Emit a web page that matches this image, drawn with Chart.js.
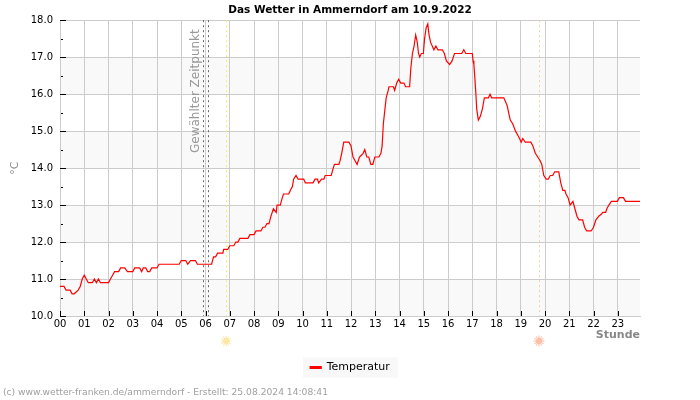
<!DOCTYPE html>
<html>
<head>
<meta charset="utf-8">
<title>Das Wetter in Ammerndorf</title>
<script src="https://cdn.jsdelivr.net/npm/chart.js@4/dist/chart.umd.min.js"></script>
<style>
    body { margin: 0; background: #fff; }
    canvas { display: block; }
</style>
</head>
<body>
<canvas id="wetter-chart" width="700" height="400"></canvas>
<script>
// minutes since midnight and temperature
const minutes = [0, 10, 15, 25, 30, 35, 45, 50, 55, 60, 70, 80, 85, 90, 95, 100, 120, 125, 130, 135, 145, 150, 160, 167, 180, 185, 197, 202, 206, 212, 217, 222, 227, 240, 245, 295, 300, 311, 316,
    323, 335, 340, 375, 380, 385, 390, 403, 405, 415, 420, 430, 435, 440, 445, 465, 470, 480, 485, 497, 502, 507, 512, 517, 522, 528, 535, 537, 545, 550, 553, 566, 570, 575, 578, 584, 589, 603, 607, 626, 631, 637, 640, 647, 653, 656, 671, 676, 679, 690, 693, 697, 702, 715, 720, 725, 730, 735, 741, 750, 754, 759, 764, 769, 774, 779, 789, 794, 797, 800, 803, 807, 812, 814, 825, 828, 833, 838, 843, 851, 855, 865,
    868, 872, 876, 880, 884, 887, 890, 894, 899, 902, 906, 910, 913, 917, 921, 925, 930, 935, 946, 951, 956, 964, 970, 976, 980, 994, 999, 1004, 1020, 1022, 1024, 1026, 1029, 1031, 1035, 1040, 1045, 1050, 1060, 1064, 1068, 1096, 1098, 1106, 1110, 1114, 1120, 1127, 1132, 1137, 1141, 1145, 1151, 1165, 1170, 1176, 1182, 1188, 1192, 1197, 1203, 1208, 1213, 1219, 1224, 1234, 1239, 1244, 1249, 1252, 1257, 1262, 1269, 1274, 1279, 1284, 1293, 1298, 1303, 1314, 1320, 1326, 1333, 1339, 1343, 1350, 1353, 1358, 1364, 1379, 1384, 1394, 1399, 1435];
const temps = [10.8, 10.8, 10.7, 10.7, 10.6, 10.6, 10.7, 10.8, 11.0, 11.1, 10.9, 10.9, 11.0, 10.9, 11.0, 10.9, 10.9, 11.0, 11.1, 11.2, 11.2, 11.3, 11.3, 11.2, 11.2, 11.3, 11.3, 11.2, 11.3, 11.3, 11.2, 11.2, 11.3, 11.3, 11.4, 11.4, 11.5, 11.5, 11.4,
    11.5, 11.5, 11.4, 11.4, 11.6, 11.6, 11.7, 11.7, 11.8, 11.8, 11.9, 11.9, 12.0, 12.0, 12.1, 12.1, 12.2, 12.2, 12.3, 12.3, 12.4, 12.4, 12.5, 12.5, 12.7, 12.9, 12.8, 13.0, 13.0, 13.2, 13.3, 13.3, 13.4, 13.5, 13.7, 13.8, 13.7, 13.7, 13.6, 13.6, 13.7, 13.7, 13.6, 13.7, 13.7, 13.8, 13.8, 14.0, 14.1, 14.1, 14.2, 14.4, 14.7, 14.7, 14.6, 14.3, 14.2, 14.1, 14.3, 14.4, 14.5, 14.3, 14.3, 14.1, 14.1, 14.3, 14.3, 14.4, 14.6, 15.2, 15.5, 15.9, 16.1, 16.2, 16.2, 16.1, 16.3, 16.4, 16.3, 16.3, 16.2, 16.2,
    16.7, 17.1, 17.3, 17.6, 17.4, 17.1, 17.0, 17.1, 17.1, 17.5, 17.8, 17.9, 17.6, 17.4, 17.3, 17.2, 17.3, 17.2, 17.2, 17.1, 16.9, 16.8, 16.9, 17.1, 17.1, 17.1, 17.2, 17.1, 17.1, 16.9, 16.8, 16.5, 16.0, 15.6, 15.3, 15.4, 15.6, 15.9, 15.9, 16.0, 15.9, 15.9, 15.9, 15.7, 15.5, 15.3, 15.2, 15.0, 14.9, 14.8, 14.7, 14.8, 14.7, 14.7, 14.6, 14.4, 14.3, 14.2, 14.1, 13.8, 13.7, 13.7, 13.8, 13.8, 13.9, 13.9, 13.6, 13.4, 13.4, 13.3, 13.2, 13.0, 13.1, 12.9, 12.7, 12.6, 12.6, 12.4, 12.3, 12.3, 12.4, 12.6, 12.7, 12.75, 12.8, 12.8, 12.9, 13.0, 13.1, 13.1, 13.2, 13.2, 13.1, 13.1];

const seriesName = 'Temperatur';
const titleText = 'Das Wetter in Ammerndorf am 10.9.2022';
const footerText = '(c) www.wetter-franken.de/ammerndorf - Erstellt: 25.08.2024 14:08:41';
const selectedText = 'Gewählter Zeitpunkt';
const selectedMinutes = [354, 365];
const sunriseMinute = 411;
const sunsetMinute = 1185;
const bandStarts = [10, 12, 14, 16];

const fontName = '"DejaVu Sans", sans-serif';

function drawSun(ctx, x, y, color) {
    ctx.save();
    ctx.strokeStyle = color;
    ctx.fillStyle = color;
    ctx.lineWidth = 1;
    for (let i = 0; i < 12; i++) {
        const a = i * Math.PI / 6;
        ctx.beginPath();
        ctx.moveTo(x + Math.cos(a) * 3, y + Math.sin(a) * 3);
        ctx.lineTo(x + Math.cos(a) * 5.5, y + Math.sin(a) * 5.5);
        ctx.stroke();
    }
    ctx.beginPath();
    ctx.arc(x, y, 3.2, 0, Math.PI * 2);
    ctx.fill();
    ctx.restore();
}

function drawMarker(ctx, chart, minute, color, dash) {
    const x = Math.round(chart.scales.x.getPixelForValue(minute)) + 0.5;
    ctx.save();
    ctx.strokeStyle = color;
    ctx.lineWidth = 1;
    ctx.setLineDash(dash);
    ctx.beginPath();
    ctx.moveTo(x, chart.chartArea.top);
    ctx.lineTo(x, chart.chartArea.bottom);
    ctx.stroke();
    ctx.restore();
}

const decorations = {
    id: 'decorations',
    beforeDraw(chart) {
        const ctx = chart.ctx;
        const area = chart.chartArea;
        const y = chart.scales.y;
        ctx.save();
        ctx.fillStyle = '#f9f9f9';
        bandStarts.forEach(start => {
            const top = y.getPixelForValue(start + 1);
            ctx.fillRect(area.left, top, area.right - area.left, y.getPixelForValue(start) - top);
        });
        const box = chart.legend.legendHitBoxes[0];
        ctx.fillStyle = '#f8f8f8';
        ctx.fillRect(303, box.top + box.height / 2 - 10, 95, 20);
        ctx.restore();
    },
    beforeDatasetsDraw(chart) {
        const ctx = chart.ctx;
        selectedMinutes.forEach(m => drawMarker(ctx, chart, m, '#666666', [2, 3]));
        drawMarker(ctx, chart, sunriseMinute, '#f8ee60', [2, 3]);
        drawMarker(ctx, chart, sunsetMinute, '#f3cf9c', [2, 3]);
    },
    afterDatasetsDraw(chart) {
        const ctx = chart.ctx;
        const area = chart.chartArea;
        const xs = chart.scales.x;
        const ys = chart.scales.y;
        ctx.save();
        ctx.strokeStyle = '#000';
        ctx.lineWidth = 1;
        // tick marks point into the plot
        ys.ticks.forEach(t => {
            const p = Math.round(ys.getPixelForValue(t.value)) + 0.5;
            const major = Number.isInteger(t.value);
            ctx.beginPath();
            ctx.moveTo(area.left + (major ? 0 : 1), p);
            ctx.lineTo(area.left + (major ? 6 : 3), p);
            ctx.stroke();
        });
        xs.ticks.forEach(t => {
            const p = Math.round(xs.getPixelForValue(t.value)) + 0.5;
            ctx.beginPath();
            ctx.moveTo(p, area.bottom);
            ctx.lineTo(p, area.bottom - 5);
            ctx.stroke();
        });
        ctx.fillStyle = '#999';
        ctx.font = '12px ' + fontName;
        ctx.textAlign = 'left';
        ctx.textBaseline = 'middle';
        ctx.translate(196, 153);
        ctx.rotate(-Math.PI / 2);
        ctx.fillText(selectedText, 0, 0);
        ctx.restore();

        drawSun(ctx, xs.getPixelForValue(sunriseMinute), 341, '#fbe7a6');
        drawSun(ctx, xs.getPixelForValue(sunsetMinute), 341, '#ffbfa6');

        ctx.save();
        ctx.fillStyle = '#a0a0a0';
        ctx.font = '9.17px ' + fontName;
        ctx.textAlign = 'left';
        ctx.textBaseline = 'middle';
        ctx.fillText(footerText, 3, 393);
        ctx.restore();
    }
};

const points = minutes.map((m, i) => ({ x: m, y: temps[i] }));

new Chart(document.getElementById('wetter-chart').getContext('2d'), {
    type: 'line',
    data: {
        datasets: [{
            label: seriesName,
            data: points,
            borderColor: '#ff0000',
            backgroundColor: '#ff0000',
            borderWidth: 1.2,
            pointRadius: 0,
            tension: 0
        }]
    },
    options: {
        responsive: false,
        animation: false,
        devicePixelRatio: 1,
        layout: { padding: { left: 0, right: 0, top: 0, bottom: 17 } },
        plugins: {
            tooltip: { enabled: false },
            title: {
                display: true,
                text: titleText,
                color: '#000',
                font: { family: fontName, size: 10.5, weight: 'bold' },
                padding: { top: 3.6, bottom: 4 }
            },
            legend: {
                position: 'bottom',
                labels: {
                    color: '#000',
                    font: { family: fontName, size: 11 },
                    boxWidth: 11,
                    boxHeight: 2,
                    padding: 5
                }
            }
        },
        scales: {
            x: {
                type: 'linear',
                min: 0,
                max: 1435,
                afterFit(scale) { scale.height = 41; },
                grid: { color: '#cccccc', drawTicks: false },
                border: { color: '#cccccc' },
                ticks: {
                    stepSize: 60,
                    includeBounds: false,
                    autoSkip: false,
                    maxRotation: 0,
                    padding: 2,
                    color: '#000',
                    font: { family: fontName, size: 10 },
                    callback: v => String(v / 60).padStart(2, '0')
                },
                title: {
                    display: true,
                    text: 'Stunde',
                    align: 'end',
                    color: '#888',
                    font: { family: fontName, size: 11, weight: 'bold' },
                    padding: { top: 0, bottom: 15 }
                }
            },
            y: {
                min: 10,
                max: 18,
                afterFit(scale) { scale.width = 60; },
                grid: {
                    drawTicks: false,
                    color: c => Number.isInteger(c.tick.value) ? '#cccccc' : 'rgba(0,0,0,0)'
                },
                border: { color: '#cccccc' },
                ticks: {
                    stepSize: 0.5,
                    autoSkip: false,
                    padding: 7,
                    color: '#000',
                    font: { family: fontName, size: 10 },
                    callback: v => Number.isInteger(v) ? v.toFixed(1) : ''
                },
                title: {
                    display: true,
                    text: '°C',
                    color: '#888',
                    font: { family: fontName, size: 11 },
                    padding: { top: 9, bottom: 0 }
                }
            },
            // empty axis on the right keeps the 60px margin, title and legend stay centred on the page
            spacer: {
                position: 'right',
                grid: { display: false },
                border: { display: false },
                ticks: { display: false },
                afterFit(scale) { scale.width = 60; }
            }
        }
    },
    plugins: [decorations]
});
</script>
</body>
</html>
